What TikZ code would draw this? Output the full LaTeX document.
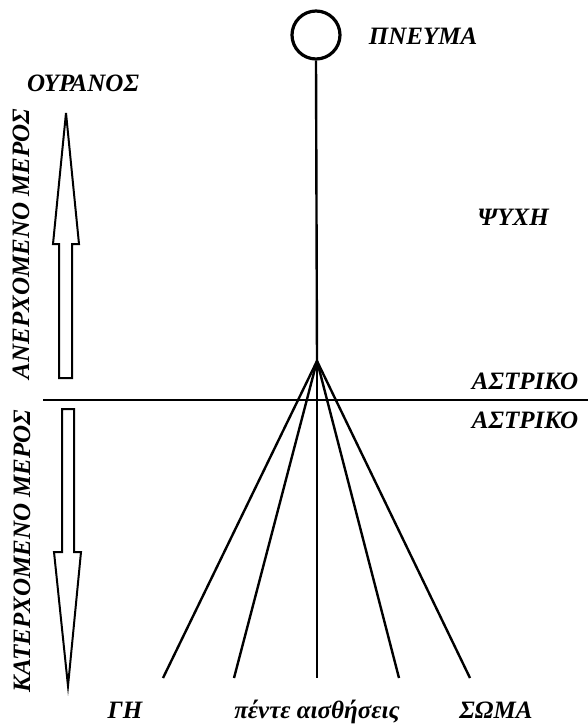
\documentclass[tikz,border=0pt]{standalone}
\usepackage{fontspec}
\setmainfont{Liberation Serif}
\begin{document}
\begin{tikzpicture}[x=1pt,y=-1pt,
  lbl/.style={font=\fontsize{25}{25}\selectfont\bfseries\itshape, inner sep=0pt},
  ln/.style={line width=2.4pt},
  bigarrow/.style={line width=2pt, line join=miter}]
\useasboundingbox (0,0) rectangle (588,725);
% spirit circle
\node[circle, draw, line width=3.2pt, minimum size=48pt, inner sep=0pt] (pn) at (316,35) {};
\coordinate (apex) at (317,361);
\coordinate (e1) at (163,678);
\coordinate (e2) at (234,678);
\coordinate (e3) at (317,678);
\coordinate (e4) at (399,678);
\coordinate (e5) at (470,678);
\coordinate (hl) at (43,400);
\coordinate (hr) at (588,400);
\draw[ln] (pn.south) -- (apex);
\foreach \e in {e1,e2,e3,e4,e5} \draw[ln] (apex) -- (\e);
\draw[ln] (hl) -- (hr);
% arrows
\draw[bigarrow] (66,113) -- (79,244) -- (72,244) -- (72,378) -- (59,378) -- (59,244) -- (53,244) -- cycle;
\draw[bigarrow] (62,409) -- (74,409) -- (74,552) -- (81,552) -- (68,686) -- (54,552) -- (62,552) -- cycle;
% labels
\node[lbl] (tpn) at (423,36) {ΠΝΕΥΜΑ};
\node[lbl] (tour) at (83,83) {ΟΥΡΑΝΟΣ};
\node[lbl] (tpsy) at (513,217) {ΨΥΧΗ};
\node[lbl] (tas1) at (525,381) {ΑΣΤΡΙΚΟ};
\node[lbl] (tas2) at (525,420) {ΑΣΤΡΙΚΟ};
\node[lbl, anchor=base] (tgi) at (125,718) {ΓΗ};
\node[lbl, anchor=base] (tpe) at (317,718) {πέντε αισθήσεις};
\node[lbl, anchor=base] (tso) at (496,718) {ΣΩΜΑ};
\node[lbl, rotate=90] (tan) at (21,244) {ΑΝΕΡΧΟΜΕΝΟ ΜΕΡΟΣ};
\node[lbl, rotate=90] (tka) at (22,551) {ΚΑΤΕΡΧΟΜΕΝΟ ΜΕΡΟΣ};
\end{tikzpicture}
\end{document}
